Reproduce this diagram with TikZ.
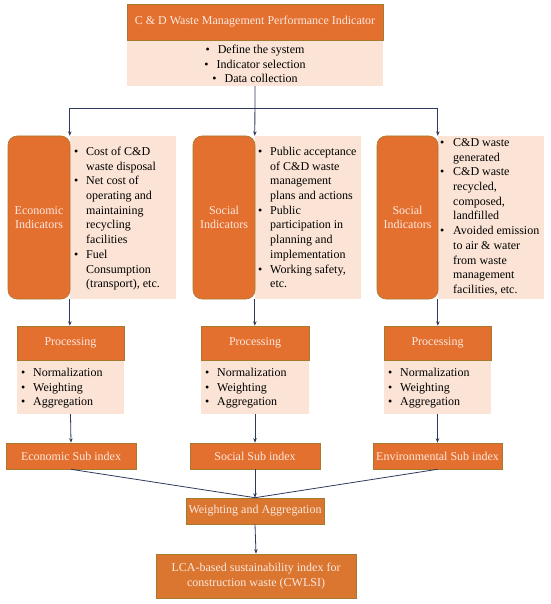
\documentclass[tikz,border=0pt]{standalone}
\usepackage{fontspec}
\setmainfont{Liberation Serif}
\usetikzlibrary{arrows.meta}
\definecolor{org}{HTML}{E4702F}
\definecolor{orgd}{HTML}{DA762F}
\definecolor{orgb}{HTML}{A57A2E}
\definecolor{lite}{HTML}{FBE4D6}
\definecolor{htxt}{HTML}{FDE8DF}
\definecolor{arrc}{HTML}{2E3A5A}
\begin{document}
\begin{tikzpicture}[x=1pt,y=-1pt,
  obox/.style={fill=org, draw=orgb, line width=0.6pt, text=htxt, inner sep=0pt,
    font=\fontsize{12}{14.5}\selectfont, align=center},
  rbox/.style={obox, rounded corners=9pt},
  lbox/.style={fill=lite, draw=none, inner sep=0pt},
  btxt/.style={inner sep=0pt, anchor=north west, align=left,
    font=\fontsize{12}{14.7}\selectfont, text=black},
  conn/.style={draw=arrc, line width=0.8pt},
  arrow/.style={conn, -{Stealth[length=4.5pt,width=3.5pt]}}]
\useasboundingbox (0,0) rectangle (550,604);

% top box
\node[lbox, minimum width=256pt, minimum height=46pt] (topb) at (255,63) {};
\node[obox, minimum width=256pt, minimum height=36pt] (toph) at (255,22)
  {C \& D Waste Management Performance Indicator};
\node[inner sep=0pt, align=center, font=\fontsize{12}{14.5}\selectfont] (toptxt) at (255,64)
  {\textbullet\hspace{8pt}Define the system\\
   \textbullet\hspace{8pt}Indicator selection\\
   \textbullet\hspace{8pt}Data collection};

% columns
\node[lbox, minimum width=106pt, minimum height=163pt] (ecol) at (123,217.5) {};
\node[rbox, minimum width=62pt, minimum height=163pt] (ecoo) at (39,217.5) {Economic\\Indicators};
\node[btxt] (ecot) at (74,145) {\begin{tabular}{@{}p{12pt}@{}l@{}}
\textbullet & Cost of C\&D\\ & waste disposal\\
\textbullet & Net cost of\\ & operating and\\ & maintaining\\ & recycling\\ & facilities\\
\textbullet & Fuel\\ & Consumption\\ & (transport), etc.
\end{tabular}};

\node[lbox, minimum width=106pt, minimum height=163pt] (socl) at (308,217.5) {};
\node[rbox, minimum width=62pt, minimum height=163pt] (soco) at (224,217.5) {Social\\Indicators};
\node[btxt] (soct) at (258,145) {\begin{tabular}{@{}p{12pt}@{}l@{}}
\textbullet & Public acceptance\\ & of C\&D waste\\ & management\\ & plans and actions\\
\textbullet & Public\\ & participation in\\ & planning and\\ & implementation\\
\textbullet & Working safety,\\ & etc.
\end{tabular}};

\node[lbox, minimum width=106pt, minimum height=163pt] (envl) at (491,217.5) {};
\node[rbox, minimum width=61pt, minimum height=163pt] (envo) at (407.5,217.5) {Social\\Indicators};
\node[btxt] (envt) at (440,136) {\begin{tabular}{@{}p{13pt}@{}l@{}}
\textbullet & C\&D waste\\ & generated\\
\textbullet & C\&D waste\\ & recycled,\\ & composed,\\ & landfilled\\
\textbullet & Avoided emission\\ & to air \& water\\ & from waste\\ & management\\ & facilities, etc.
\end{tabular}};

% processing boxes
\node[lbox, minimum width=107pt, minimum height=54pt] (ecopb) at (70.5,387) {};
\node[obox, minimum width=107pt, minimum height=34pt] (ecoph) at (70.5,343) {Processing};
\node[btxt] (ecopt) at (21,366) {\begin{tabular}{@{}p{12pt}@{}l@{}}
\textbullet & Normalization\\ \textbullet & Weighting\\ \textbullet & Aggregation
\end{tabular}};

\node[lbox, minimum width=108pt, minimum height=54pt] (socpb) at (255,387) {};
\node[obox, minimum width=108pt, minimum height=34pt] (socph) at (255,343) {Processing};
\node[btxt] (socpt) at (205,366) {\begin{tabular}{@{}p{12pt}@{}l@{}}
\textbullet & Normalization\\ \textbullet & Weighting\\ \textbullet & Aggregation
\end{tabular}};

\node[lbox, minimum width=107pt, minimum height=54pt] (envpb) at (437.5,387) {};
\node[obox, minimum width=107pt, minimum height=34pt] (envph) at (437.5,343) {Processing};
\node[btxt] (envpt) at (388,366) {\begin{tabular}{@{}p{12pt}@{}l@{}}
\textbullet & Normalization\\ \textbullet & Weighting\\ \textbullet & Aggregation
\end{tabular}};

% sub index boxes
\node[obox, minimum width=130pt, minimum height=26pt] (ecos) at (71,456) {Economic Sub index};
\node[obox, minimum width=130pt, minimum height=26pt] (socs) at (255,456) {Social Sub index};
\node[obox, minimum width=129pt, minimum height=26pt] (envs) at (437.5,456) {Environmental Sub index};

\node[obox, fill=orgd, minimum width=138pt, minimum height=26pt] (wa) at (255,511) {Weighting and Aggregation};
\node[obox, fill=orgd, minimum width=200pt, minimum height=44pt] (lca) at (256,576)
  {LCA-based sustainability index for\\construction waste (CWLSI)};

% connectors
\coordinate (split) at (255,108);
\draw[arrow] (topb.south) -- (socl.north west);
\draw[arrow] (split) -| (ecol.north west);
\draw[arrow] (split) -| (envl.north west);

\draw[arrow] (ecol.south west) -- (ecol.south west |- ecoph.north);
\draw[arrow] (socl.south west) -- (socl.south west |- socph.north);
\draw[arrow] (envl.south west) -- (envl.south west |- envph.north);

\draw[arrow] (ecopb.south) -- (ecos.north);
\draw[arrow] (socpb.south) -- (socs.north);
\draw[arrow] (envpb.south) -- (envs.north);

\draw[conn] (ecos.south) -- (wa.north);
\draw[conn] (envs.south) -- (wa.north);
\draw[arrow] (socs.south) -- (wa.north);
\draw[arrow] (wa.south) -- (lca.north);
\end{tikzpicture}
\end{document}
